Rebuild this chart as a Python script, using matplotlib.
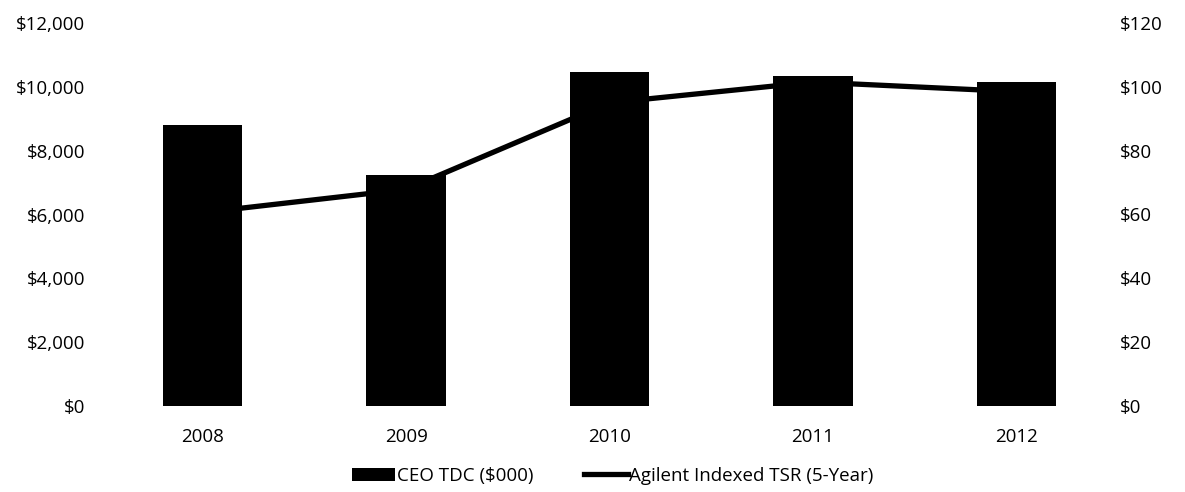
import matplotlib
matplotlib.use("Agg")
import matplotlib.pyplot as plt
from matplotlib.ticker import FuncFormatter

years = ["2008", "2009", "2010", "2011", "2012"]
ceo_tdc = [8800, 7240, 10460, 10340, 10160]
tsr = [60.6, 67.9, 95.0, 101.5, 98.5]
left_ticks = [0, 2000, 4000, 6000, 8000, 10000, 12000]
right_ticks = [0, 20, 40, 60, 80, 100, 120]

plt.rcParams['font.family'] = ["Open Sans", "DejaVu Sans"]
fs = 13.5

W, H = 1185, 492
fig = plt.figure(figsize=(W / 100, H / 100), dpi=100)
ax = fig.add_axes([101 / W, (H - 406) / H, (1118 - 101) / W, (406 - 23) / H])
ax2 = ax.twinx()

x = list(range(len(years)))
bars = ax.bar(x, ceo_tdc, width=0.39, color="black", label="CEO TDC ($000)", zorder=2)
line, = ax2.plot(x, tsr, color="black", lw=3.8, solid_joinstyle="miter",
                 label="Agilent Indexed TSR (5-Year)", zorder=3)

ax.set_xlim(-0.5, len(years) - 0.5)
ax.set_ylim(0, 12000)
ax2.set_ylim(0, 120)
ax.set_yticks(left_ticks)
ax2.set_yticks(right_ticks)
ax.yaxis.set_major_formatter(FuncFormatter(lambda v, p: f"${int(v):,}"))
ax2.yaxis.set_major_formatter(FuncFormatter(lambda v, p: f"${int(v)}"))
ax.set_xticks(x)
ax.set_xticklabels(years)

for a in (ax, ax2):
    for s in a.spines.values():
        s.set_visible(False)
ax.tick_params(axis="both", length=0, labelsize=fs, colors="black")
ax.tick_params(axis="y", pad=11.5)
ax.tick_params(axis="x", pad=16)
ax2.tick_params(axis="y", length=0, labelsize=fs, pad=1.5)

fig.legend([bars, line], ["CEO TDC ($000)", "Agilent Indexed TSR (5-Year)"],
           loc="center", bbox_to_anchor=(613 / W, 1 - 476 / H), ncol=2,
           frameon=False, fontsize=fs, handlelength=2.3, handleheight=0.7,
           handletextpad=0.1, columnspacing=2.7)

fig.savefig("out.png", dpi=100, facecolor="white")
